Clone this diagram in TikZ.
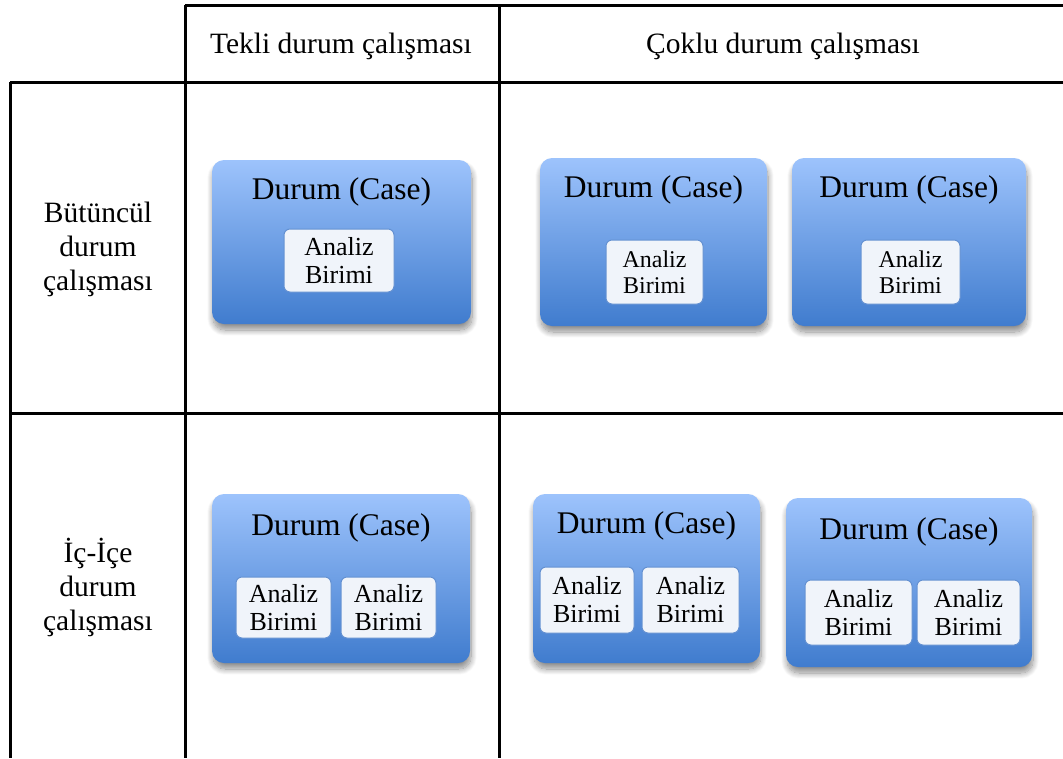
\documentclass[tikz,border=0pt]{standalone}
\usepackage{fontspec}
\setmainfont{Liberation Serif}
\usetikzlibrary{shadows.blur}
\definecolor{caselight}{RGB}{157,195,252}
\definecolor{casedark}{RGB}{64,124,206}
\definecolor{unitfill}{RGB}{240,244,250}
\definecolor{unitline}{RGB}{100,145,210}
\tikzset{
	grid/.style={
		line width=3pt,
		black
	},
	header/.style={
		font=\fontsize{29.5}{34}\selectfont,
		align=center
	},
	case/.style={
		rounded corners=12pt,
		top color=caselight,
		bottom color=casedark,
		inner sep=0pt,
		blur shadow={shadow xshift=1pt, shadow yshift=-6pt, shadow blur radius=6pt, shadow blur steps=12, shadow opacity=45}
	},
	casetitle/.style={
		font=\fontsize{31.5}{34}\selectfont,
		inner sep=0pt
	},
	unit/.style={
		draw=unitline,
		line width=1pt,
		fill=unitfill,
		rounded corners=6pt,
		align=center,
		inner sep=0pt,
		font=\fontsize{26}{28}\selectfont
	}
}

\begin{document}
\begin{tikzpicture}[x=1pt, y=-1pt]
	\useasboundingbox (0,0) rectangle (1063,758);

	% table lines
	\draw[grid] (185,5) -- (1063,5);
	\draw[grid] (10,82) -- (1063,82);
	\draw[grid] (10,413) -- (1063,413);
	\draw[grid] (10,82) -- (10,758);
	\draw[grid] (185,5) -- (185,758);
	\draw[grid] (499,5) -- (499,758);

	% column and row headers
	\node[header] (tekli) at (341,46) {Tekli durum çalışması};
	\node[header] (coklu) at (783,46) {Çoklu durum çalışması};
	\node[header] (butuncul) at (98,249) {Bütüncül\\durum\\çalışması};
	\node[header] (icice) at (98,587) {İç-İçe\\durum\\çalışması};

	% cases, top row
	\node[case, minimum width=259pt, minimum height=164pt] (case11) at (341.5,242) {};
	\node[case, minimum width=227pt, minimum height=168pt] (case12) at (653.5,242) {};
	\node[case, minimum width=234pt, minimum height=168pt] (case13) at (909,242) {};
	% cases, bottom row
	\node[case, minimum width=258pt, minimum height=169pt] (case21) at (341,578.5) {};
	\node[case, minimum width=227pt, minimum height=169pt] (case22) at (646.5,578.5) {};
	\node[case, minimum width=246pt, minimum height=169pt] (case23) at (909,582.5) {};

	% titles
	\node[casetitle] (title11) at (341.5,192) {Durum (Case)};
	\node[casetitle] (title12) at (653.5,190) {Durum (Case)};
	\node[casetitle] (title13) at (909,190) {Durum (Case)};
	\node[casetitle] (title21) at (341,528) {Durum (Case)};
	\node[casetitle] (title22) at (646.5,526) {Durum (Case)};
	\node[casetitle] (title23) at (909,532) {Durum (Case)};

	% units of analysis
	\node[unit, minimum width=110pt, minimum height=63pt] (unit11) at (339,260.5) {Analiz\\Birimi};
	\node[unit, minimum width=97pt, minimum height=64pt, font=\fontsize{24}{26}\selectfont] (unit12) at (654.5,272) {Analiz\\Birimi};
	\node[unit, minimum width=99pt, minimum height=64pt, font=\fontsize{24}{26}\selectfont] (unit13) at (910.5,272) {Analiz\\Birimi};

	\node[unit, minimum width=95pt, minimum height=61pt] (unit21a) at (283.5,607.5) {Analiz\\Birimi};
	\node[unit, minimum width=95pt, minimum height=61pt] (unit21b) at (388.5,607.5) {Analiz\\Birimi};
	\node[unit, minimum width=94pt, minimum height=66pt] (unit22a) at (587,600) {Analiz\\Birimi};
	\node[unit, minimum width=97pt, minimum height=66pt] (unit22b) at (690.5,600) {Analiz\\Birimi};
	\node[unit, minimum width=107pt, minimum height=65pt] (unit23a) at (858.5,612.5) {Analiz\\Birimi};
	\node[unit, minimum width=103pt, minimum height=65pt] (unit23b) at (968.5,612.5) {Analiz\\Birimi};
\end{tikzpicture}
\end{document}
